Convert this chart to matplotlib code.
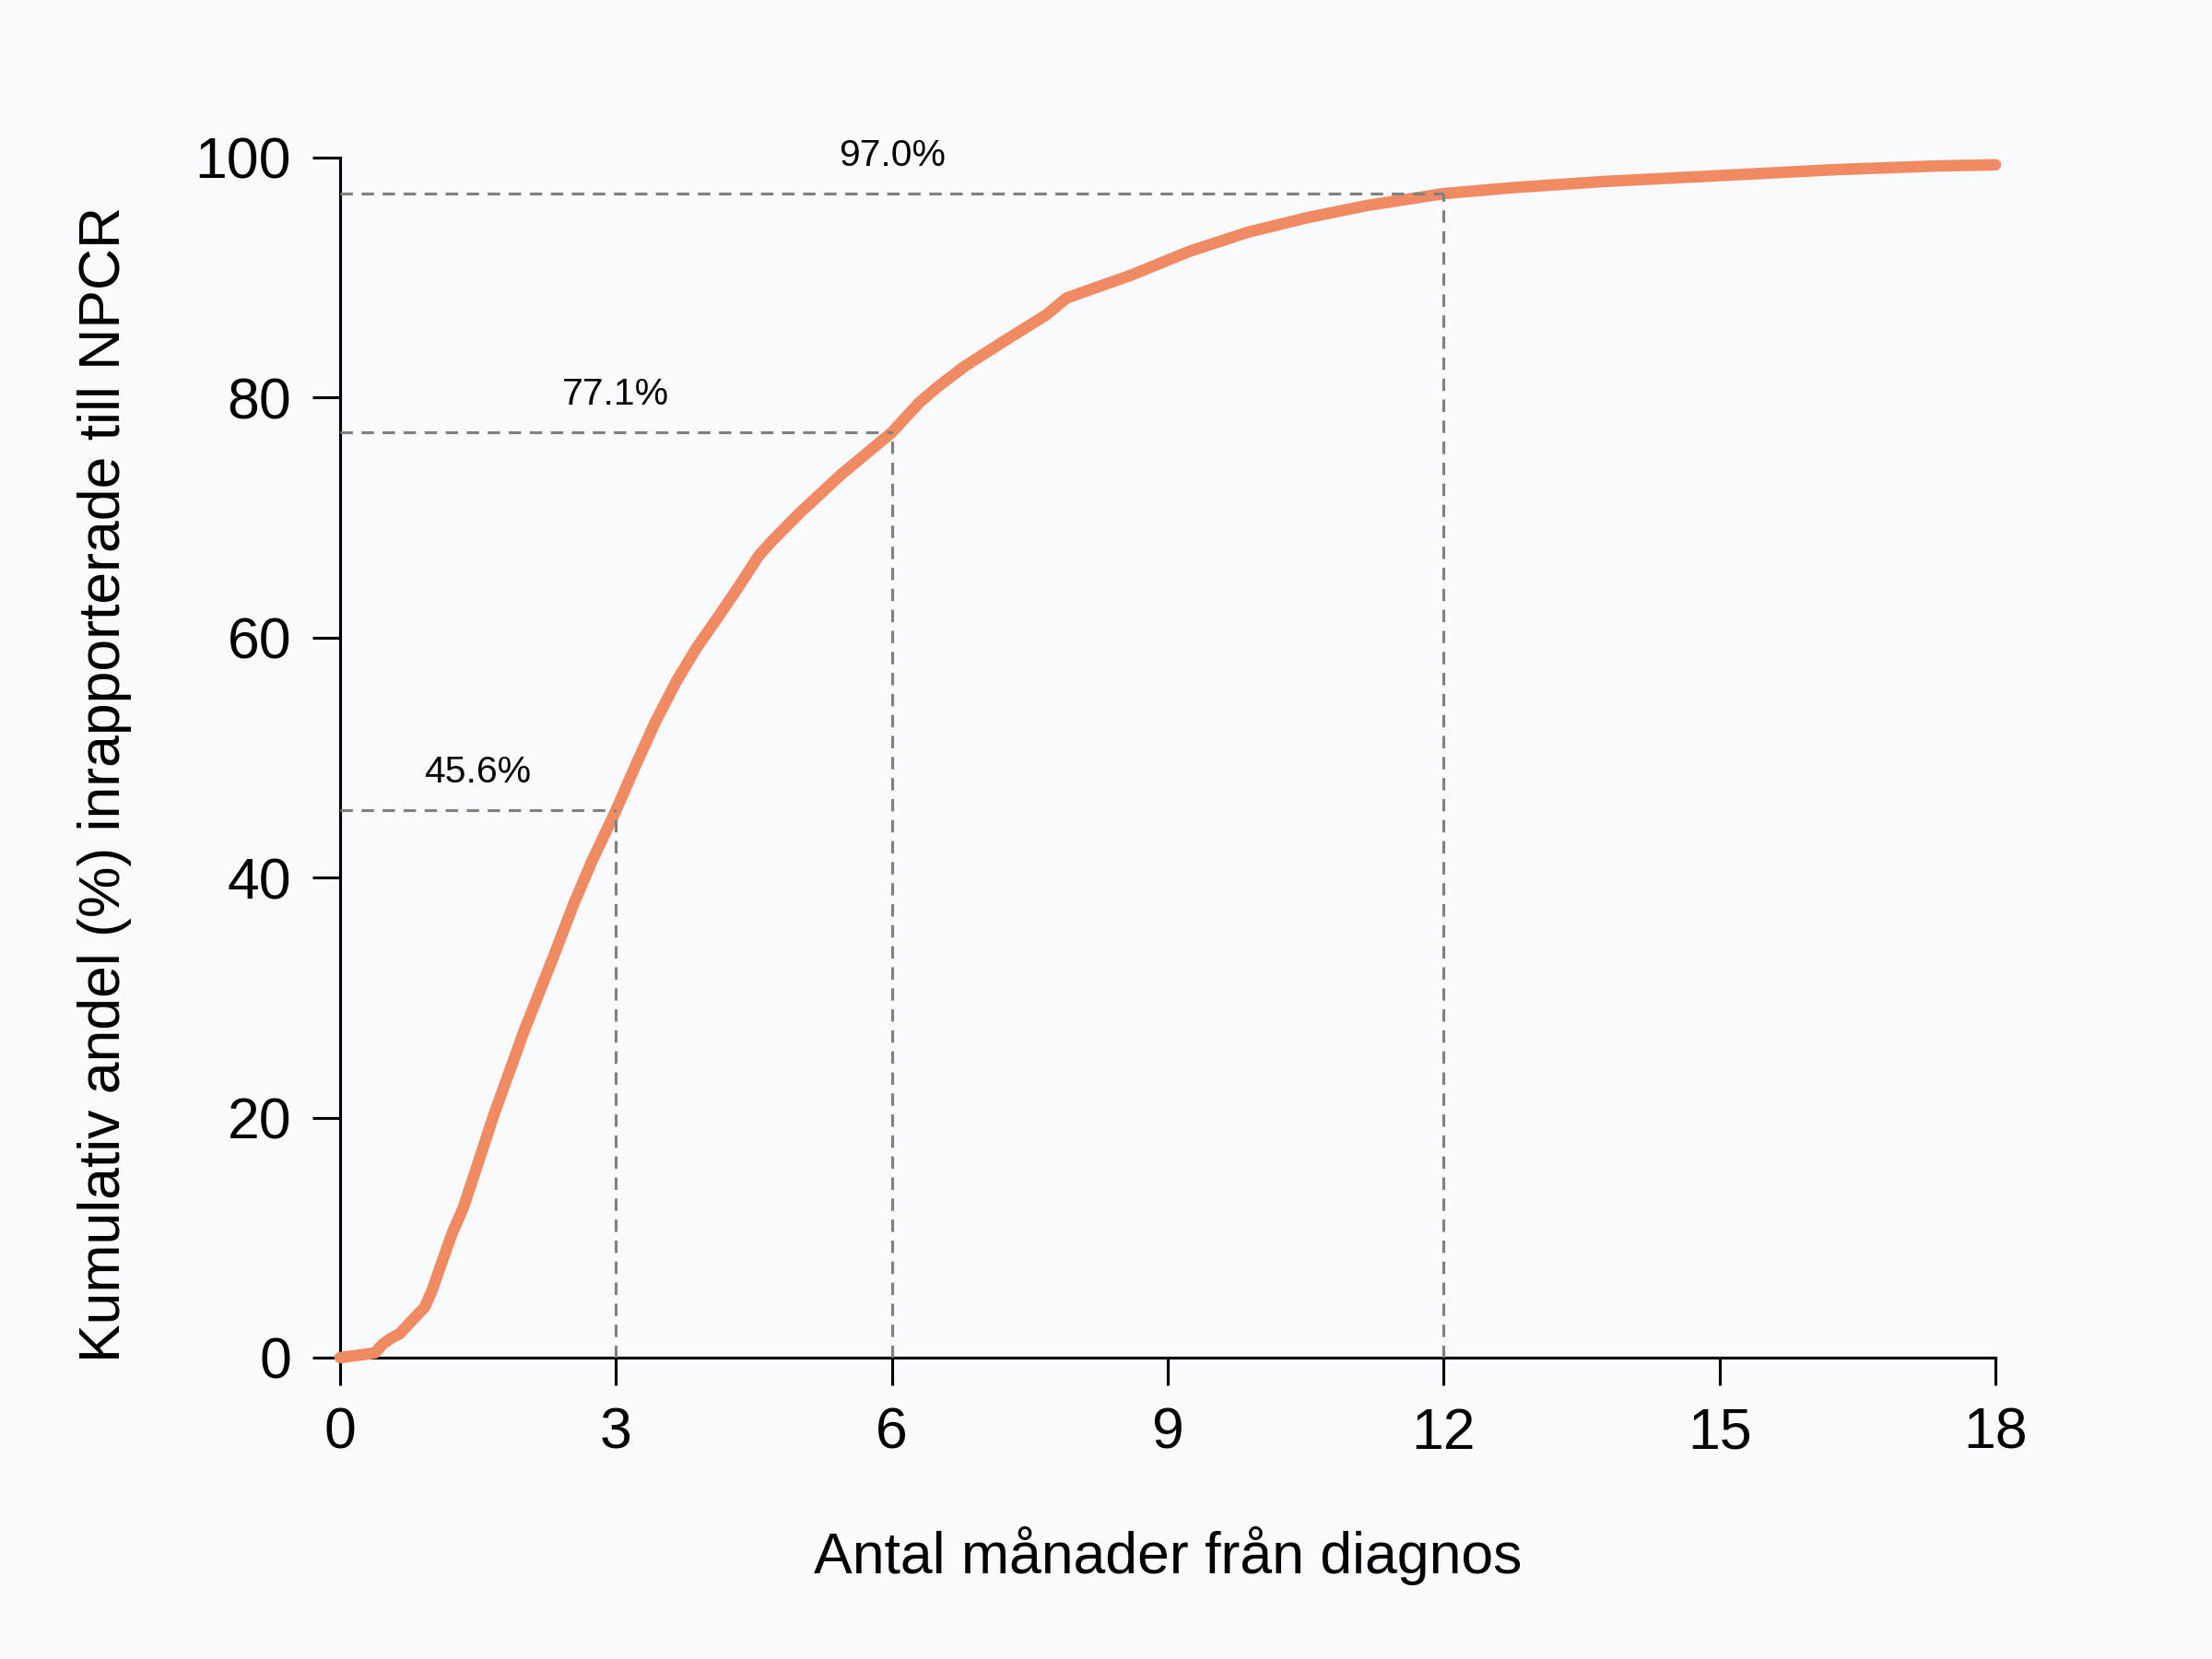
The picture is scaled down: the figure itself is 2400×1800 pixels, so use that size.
import matplotlib
matplotlib.use("Agg")
import matplotlib.pyplot as plt

# ---- data ----
months = [0.0, 0.2, 0.38, 0.46, 0.55, 0.65, 0.77, 0.92, 1.0, 1.11, 1.22, 1.34,
          1.5, 1.67, 1.84, 2.0, 2.17, 2.34, 2.54, 2.74, 3.0, 3.21, 3.43, 3.66,
          3.88, 4.1, 4.33, 4.55, 4.69, 5.0, 5.45, 6.0, 6.3, 6.5, 6.79, 7.24,
          7.68, 7.9, 8.6, 9.24, 9.88, 10.52, 11.16, 12.0, 12.76, 13.72, 15.0,
          16.27, 17.35, 18.0]
cum_pct = [0.0, 0.2, 0.4, 1.1, 1.6, 2.0, 3.0, 4.2, 5.6, 8.0, 10.4, 12.5,
           16.2, 20.2, 23.8, 27.2, 30.5, 33.8, 37.8, 41.4, 45.6, 49.3, 53.0, 56.4,
           59.2, 61.6, 64.2, 66.8, 68.0, 70.4, 73.6, 77.1, 79.6, 80.9, 82.6, 84.8,
           86.9, 88.3, 90.2, 92.2, 93.8, 95.0, 96.0, 97.0, 97.5, 98.0, 98.5,
           99.0, 99.3, 99.4]
ref_months = [3, 6, 12]
ref_pct = [45.6, 77.1, 97.0]
ref_labels = ["45.6%", "77.1%", "97.0%"]
xticks = [0, 3, 6, 9, 12, 15, 18]
yticks = [0, 20, 40, 60, 80, 100]
xlabel = "Antal månader från diagnos"
ylabel = "Kumulativ andel (%) inrapporterade till NPCR"

# ---- style ----
plt.rcParams['font.family'] = ['Liberation Sans', 'DejaVu Sans']
bg = '#F8FAFE'
line_col = '#EF8A62'
fs = 15

fig = plt.figure(figsize=(8, 6), dpi=300, facecolor=bg)
W, H = 2400, 1800
ax = fig.add_axes([369 / W, 1 - 1473 / H, (2165 - 369) / W, (1473 - 171) / H])
ax.set_facecolor(bg)

ax.plot(months, cum_pct, color=line_col, lw=3.0, solid_capstyle='round',
        solid_joinstyle='round', clip_on=False, zorder=3)

for m, p, lab in zip(ref_months, ref_pct, ref_labels):
    ax.plot([0, m], [p, p], color='#808080', lw=0.75, ls=(0, (4.3, 3.0)), zorder=4)
    ax.plot([m, m], [0, p], color='#808080', lw=0.75, ls=(0, (4.3, 3.0)), zorder=4)
    ax.text(m / 2, p + 2.3, lab, ha='center', va='baseline', fontsize=9.8, color='black')

ax.set_xlim(0, 18)
ax.set_ylim(0, 100)
ax.set_xticks(xticks)
ax.set_yticks(yticks)
ax.set_xticklabels([str(t) for t in xticks])
ax.set_yticklabels([str(t) for t in yticks])
for s in ['top', 'right']:
    ax.spines[s].set_visible(False)
for s in ['left', 'bottom']:
    ax.spines[s].set_linewidth(0.75)
    ax.spines[s].set_color('black')
ax.tick_params(direction='out', length=7.2, width=0.75, labelsize=fs, colors='black')
ax.tick_params(axis='x', pad=5.5)
ax.tick_params(axis='y', pad=5.5)

fig.text(0.5 * (369 + 2165) / W, 1 - 1707 / H, xlabel, ha='center', va='baseline', fontsize=fs)
fig.text(130 / W, 1 - 851 / H, ylabel, ha='center', va='baseline', rotation=90,
         rotation_mode='anchor', fontsize=fs)

fig.savefig('out.png', dpi=300, facecolor=bg)
